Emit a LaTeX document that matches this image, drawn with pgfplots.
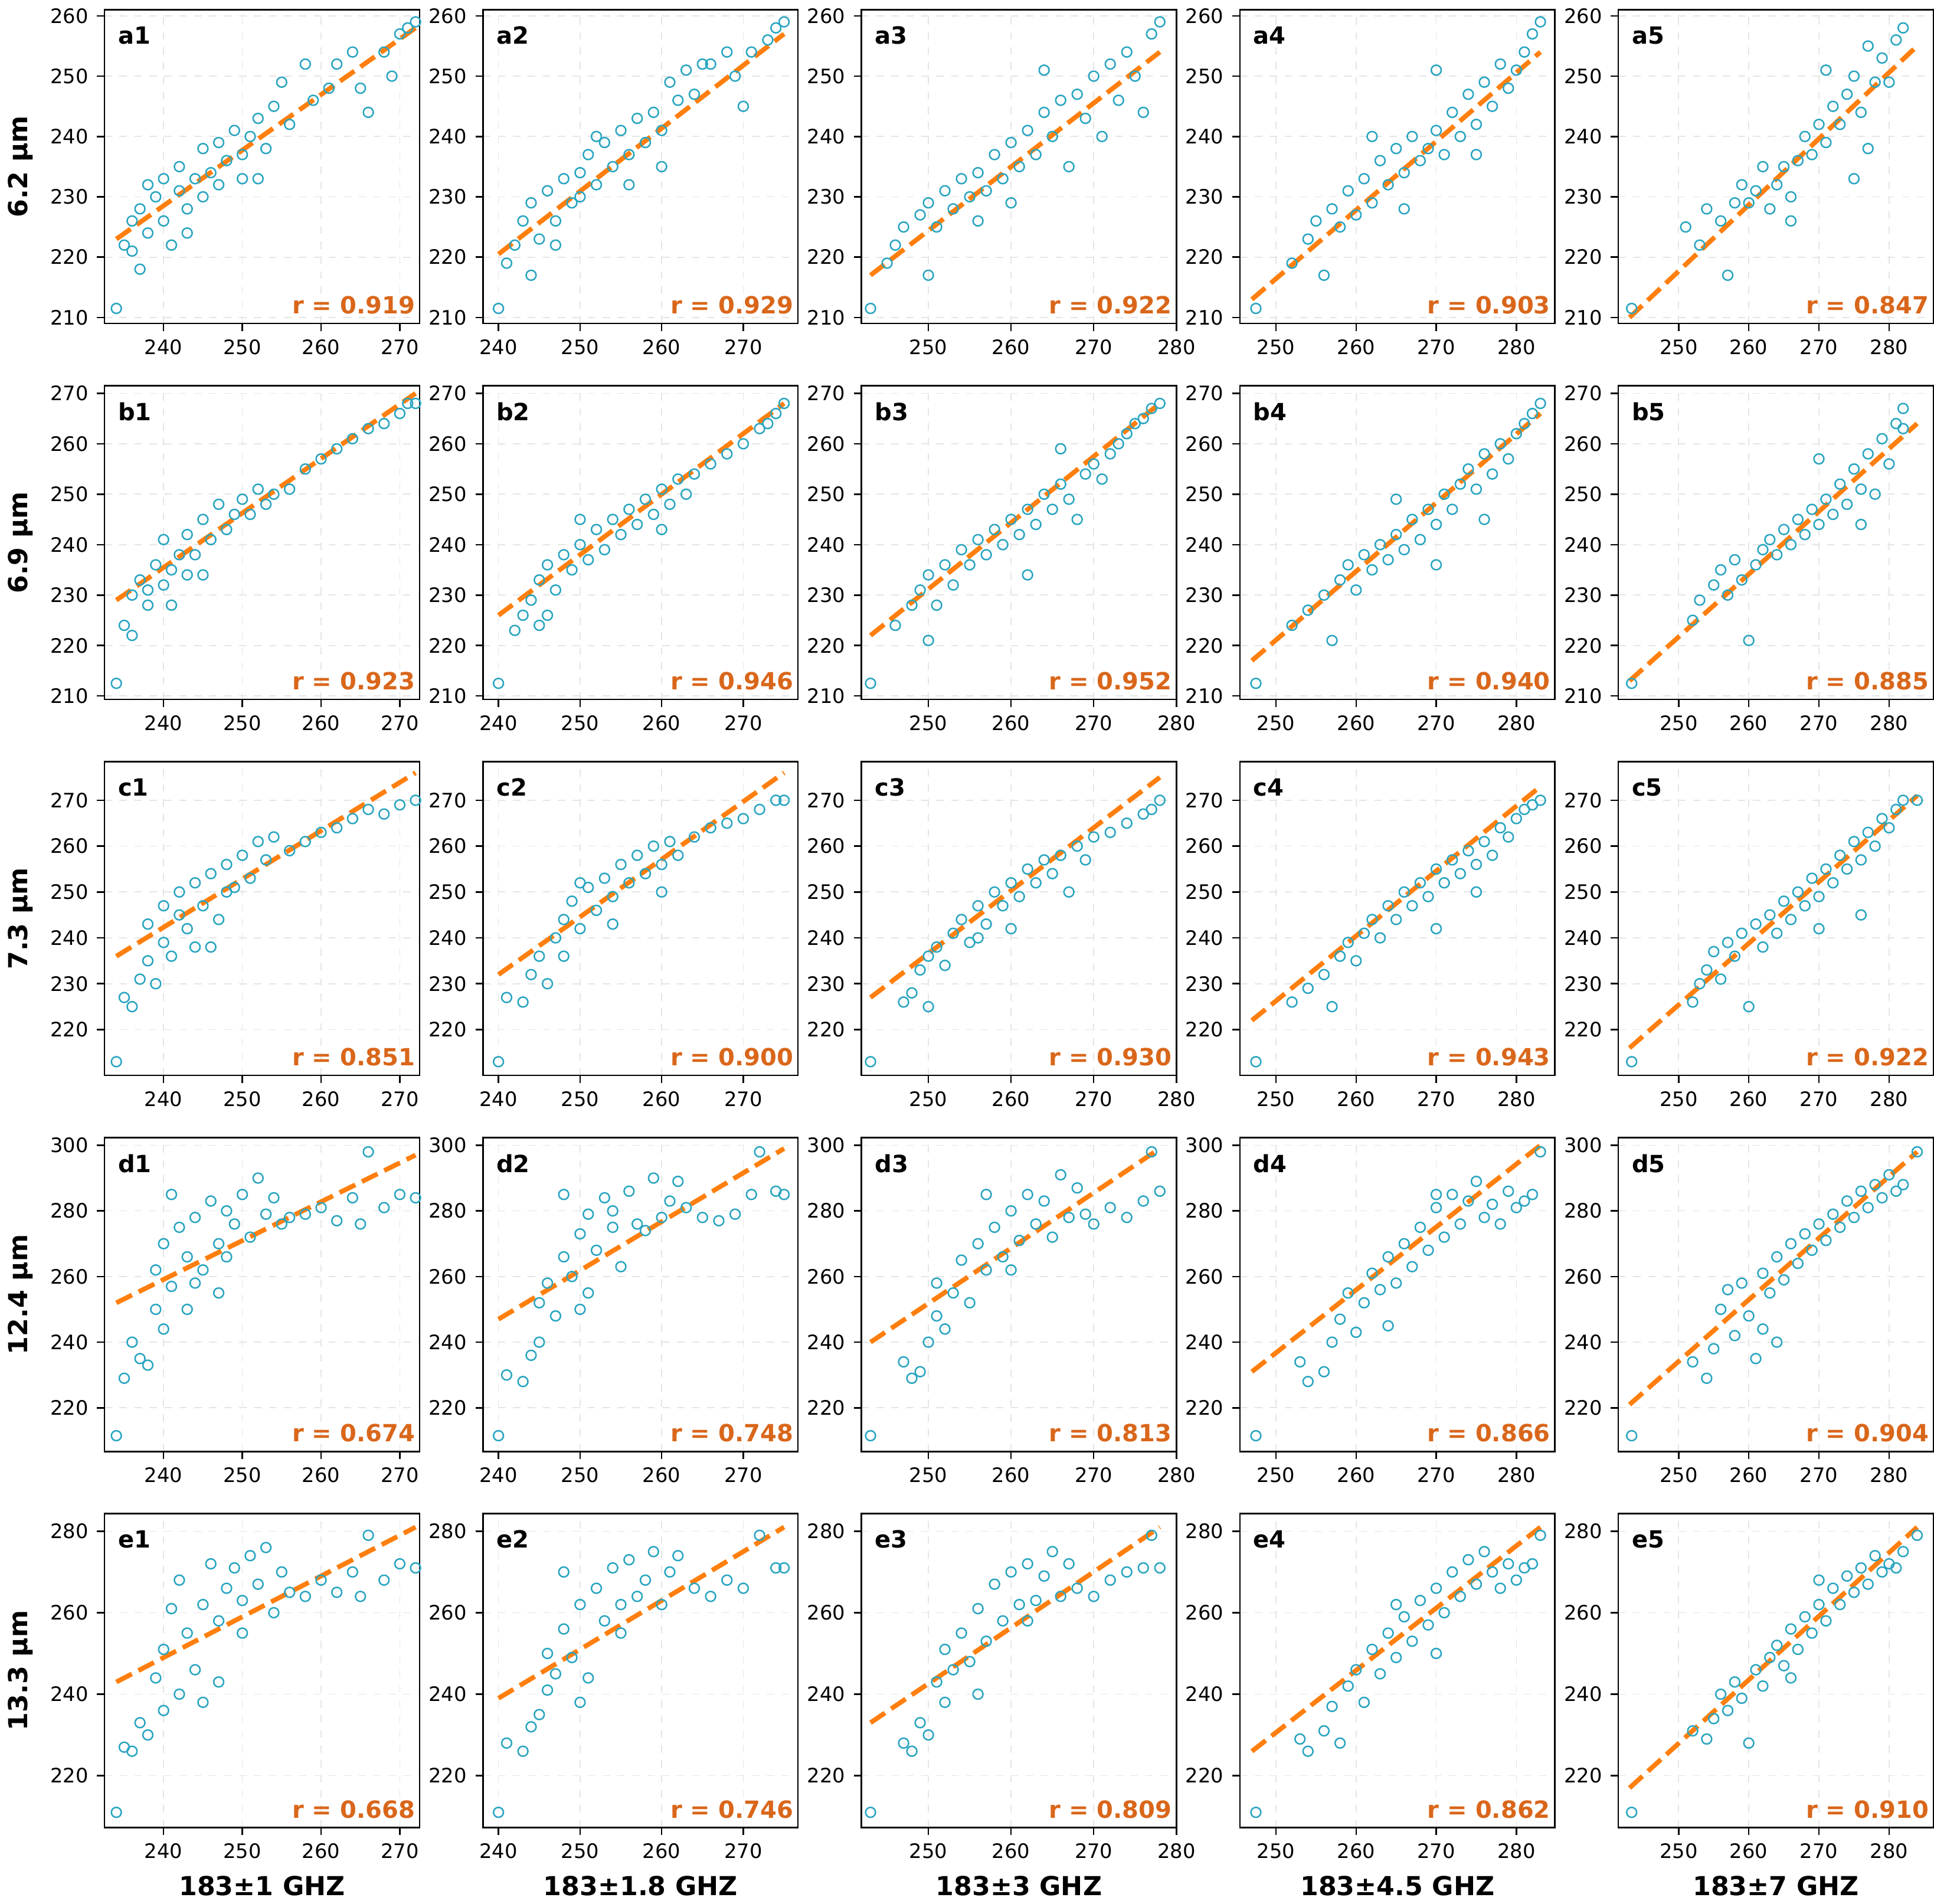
\documentclass[border=0pt]{standalone}
\usepackage{fontspec}
\setmainfont{DejaVu Sans}
\usepackage{pgfplots}
\pgfplotsset{compat=1.18}
\usepgfplotslibrary{groupplots}
\definecolor{pt}{HTML}{2AA5C0}
\definecolor{ln}{HTML}{FF7F0E}
\definecolor{rt}{HTML}{D9661A}
\pgfplotsset{
 every axis/.append style={scale only axis, width=126.5pt, height=126pt,
  tick align=outside, xtick pos=bottom, ytick pos=left,
  tick style={black,line width=0.6pt}, major tick length=3pt,
  grid=major, grid style={dashed,gray!20,line width=0.4pt},
  axis line style={line width=0.6pt},
  ticklabel style={font=\fontsize{8}{9}\selectfont},
  /pgf/number format/assume math mode=true,
  label style={font=\bfseries\fontsize{10.5}{12}\selectfont}},
 c1/.style={xmin=232.5,xmax=272.5,xtick={240,250,260,270}},
 c2/.style={xmin=238.1,xmax=276.7,xtick={240,250,260,270}},
 c3/.style={xmin=241.9,xmax=280,xtick={250,260,270,280}},
 c4/.style={xmin=245.5,xmax=284.8,xtick={250,260,270,280}},
 c5/.style={xmin=241.4,xmax=286.3,xtick={250,260,270,280}},
 ra/.style={ymin=209,ymax=261,ytick={210,220,...,260}},
 rb/.style={ymin=209.3,ymax=271.5,ytick={210,220,...,270}},
 rc/.style={ymin=210,ymax=278.4,ytick={220,230,...,270}},
 rd/.style={ymin=206.7,ymax=302.3,ytick={220,240,...,300}},
 re/.style={ymin=207.3,ymax=284.3,ytick={220,240,...,280}},
 sc/.style={only marks, mark=o, mark size=2pt, color=pt, mark options={line width=0.6pt}},
 fit/.style={ln, dashed, line width=1.9pt, dash pattern=on 7pt off 3pt},
}
\newcommand{\lab}[2]{\node[anchor=north west,font=\bfseries\fontsize{9.5}{11}\selectfont] at (rel axis cs:0.015,0.975) {#1};
 \node[anchor=south east,text=rt,font=\bfseries\fontsize{9.5}{11}\selectfont,inner sep=1pt] at (rel axis cs:0.995,0.02) {r = #2};}
\begin{document}
\begin{tikzpicture}
\begin{groupplot}[group style={group size=5 by 5, horizontal sep=25.5pt, vertical sep=25pt}]
% row a
\nextgroupplot[c1,ra,ylabel={6.2 µm}]
\addplot[sc] coordinates {(234,211.5)(235,222)(236,226)(237,218)(237,228)(238,224)(239,230)(240,233)(240,226)(241,222)(242,231)(242,235)(243,228)(244,233)(245,238)(245,230)(246,234)(247,239)(248,236)(249,241)(250,237)(250,233)(251,240)(252,243)(253,238)(254,245)(255,249)(256,242)(258,252)(259,246)(261,248)(262,252)(264,254)(265,248)(266,244)(268,254)(269,250)(270,257)(271,258)(272,259)(238,232)(243,224)(247,232)(252,233)(236,221)};
\addplot[fit] coordinates {(234,223)(272,258)}; \lab{a1}{0.919}
\nextgroupplot[c2,ra]
\addplot[sc] coordinates {(240,211.5)(241,219)(242,222)(243,226)(244,217)(244,229)(245,223)(246,231)(247,226)(248,233)(249,229)(250,234)(250,230)(251,237)(252,232)(253,239)(254,235)(255,241)(256,237)(257,243)(258,239)(259,244)(260,241)(261,249)(262,246)(263,251)(264,247)(265,252)(266,252)(268,254)(269,250)(270,245)(271,254)(273,256)(274,258)(275,259)(247,222)(252,240)(256,232)(260,235)};
\addplot[fit] coordinates {(240,220.5)(275,257)}; \lab{a2}{0.929}
\nextgroupplot[c3,ra]
\addplot[sc] coordinates {(243,211.5)(245,219)(246,222)(247,225)(249,227)(250,217)(250,229)(251,225)(252,231)(253,228)(254,233)(255,230)(256,234)(257,231)(258,237)(259,233)(260,239)(261,235)(262,241)(263,237)(264,244)(265,240)(266,246)(267,235)(268,247)(269,243)(270,250)(271,240)(272,252)(273,246)(274,254)(275,250)(276,244)(277,257)(278,259)(264,251)(256,226)(260,229)};
\addplot[fit] coordinates {(243,217)(278,254)}; \lab{a3}{0.922}
\nextgroupplot[c4,ra]
\addplot[sc] coordinates {(247.5,211.5)(252,219)(254,223)(255,226)(256,217)(257,228)(258,225)(259,231)(260,227)(261,233)(262,229)(263,236)(264,232)(265,238)(266,234)(267,240)(268,236)(269,238)(270,241)(271,237)(272,244)(273,240)(274,247)(275,242)(276,249)(277,245)(278,252)(279,248)(280,251)(281,254)(282,257)(283,259)(270,251)(275,237)(262,240)(266,228)};
\addplot[fit] coordinates {(247,213)(283,254)}; \lab{a4}{0.903}
\nextgroupplot[c5,ra]
\addplot[sc] coordinates {(243.3,211.5)(251,225)(253,222)(254,228)(256,226)(257,217)(258,229)(259,232)(260,229)(261,231)(262,235)(263,228)(264,232)(265,235)(266,230)(267,236)(268,240)(269,237)(270,242)(271,239)(272,245)(273,242)(274,247)(275,250)(276,244)(277,238)(278,249)(279,253)(280,249)(281,256)(282,258)(271,251)(275,233)(266,226)(277,255)};
\addplot[fit] coordinates {(243,210)(284,255)}; \lab{a5}{0.847}
% row b
\nextgroupplot[c1,rb,ylabel={6.9 µm}]
\addplot[sc] coordinates {(234,212.5)(235,224)(236,222)(236,230)(237,233)(238,228)(239,236)(240,232)(240,241)(241,235)(242,238)(243,242)(243,234)(244,238)(245,245)(246,241)(247,248)(248,243)(249,246)(250,249)(251,246)(252,251)(253,248)(254,250)(256,251)(258,255)(260,257)(262,259)(264,261)(266,263)(268,264)(270,266)(271,268)(272,268)(238,231)(241,228)(245,234)};
\addplot[fit] coordinates {(234,229)(272,270)}; \lab{b1}{0.923}
\nextgroupplot[c2,rb]
\addplot[sc] coordinates {(240,212.5)(242,223)(243,226)(244,229)(245,224)(245,233)(246,236)(247,231)(248,238)(249,235)(250,240)(251,237)(252,243)(253,239)(254,245)(255,242)(256,247)(257,244)(258,249)(259,246)(260,251)(261,248)(262,253)(263,250)(264,254)(266,256)(268,258)(270,260)(272,263)(273,264)(274,266)(275,268)(250,245)(246,226)(260,243)};
\addplot[fit] coordinates {(240,226)(275,268)}; \lab{b2}{0.946}
\nextgroupplot[c3,rb]
\addplot[sc] coordinates {(243,212.5)(246,224)(248,228)(249,231)(250,221)(250,234)(251,228)(252,236)(253,232)(254,239)(255,236)(256,241)(257,238)(258,243)(259,240)(260,245)(261,242)(262,247)(263,244)(264,250)(265,247)(266,252)(267,249)(268,245)(269,254)(270,256)(271,253)(272,258)(273,260)(274,262)(275,264)(276,265)(277,267)(278,268)(266,259)(262,234)};
\addplot[fit] coordinates {(243,222)(278,268)}; \lab{b3}{0.952}
\nextgroupplot[c4,rb]
\addplot[sc] coordinates {(247.5,212.5)(252,224)(254,227)(256,230)(257,221)(258,233)(259,236)(260,231)(261,238)(262,235)(263,240)(264,237)(265,242)(266,239)(267,245)(268,241)(269,247)(270,244)(271,250)(272,247)(273,252)(274,255)(275,251)(276,258)(277,254)(278,260)(279,257)(280,262)(281,264)(282,266)(283,268)(276,245)(270,236)(265,249)};
\addplot[fit] coordinates {(247,217)(283,266)}; \lab{b4}{0.940}
\nextgroupplot[c5,rb]
\addplot[sc] coordinates {(243.3,212.5)(252,225)(253,229)(255,232)(256,235)(257,230)(258,237)(259,233)(260,221)(261,236)(262,239)(263,241)(264,238)(265,243)(266,240)(267,245)(268,242)(269,247)(270,244)(271,249)(272,246)(273,252)(274,248)(275,255)(276,251)(277,258)(278,250)(279,261)(280,256)(281,264)(282,267)(282,263)(276,244)(270,257)};
\addplot[fit] coordinates {(243,213)(284,264)}; \lab{b5}{0.885}
% row c
\nextgroupplot[c1,rc,ylabel={7.3 µm}]
\addplot[sc] coordinates {(234,213)(235,227)(236,225)(237,231)(238,235)(238,243)(239,230)(240,239)(240,247)(241,236)(242,250)(243,242)(244,238)(244,252)(245,247)(246,254)(247,244)(248,256)(249,251)(250,258)(251,253)(252,261)(253,257)(254,262)(256,259)(258,261)(260,263)(262,264)(264,266)(266,268)(268,267)(270,269)(272,270)(242,245)(246,238)(248,250)};
\addplot[fit] coordinates {(234,236)(272,276)}; \lab{c1}{0.851}
\nextgroupplot[c2,rc]
\addplot[sc] coordinates {(240,213)(241,227)(243,226)(244,232)(245,236)(246,230)(247,240)(248,244)(248,236)(249,248)(250,242)(251,251)(252,246)(253,253)(254,249)(255,256)(256,252)(257,258)(258,254)(259,260)(260,256)(261,261)(262,258)(264,262)(266,264)(268,265)(270,266)(272,268)(274,270)(275,270)(250,252)(254,243)(260,250)};
\addplot[fit] coordinates {(240,232)(275,276)}; \lab{c2}{0.900}
\nextgroupplot[c3,rc]
\addplot[sc] coordinates {(243,213)(247,226)(248,228)(249,233)(250,225)(250,236)(251,238)(252,234)(253,241)(254,244)(255,239)(256,247)(257,243)(258,250)(259,247)(260,252)(261,249)(262,255)(263,252)(264,257)(265,254)(266,258)(267,250)(268,260)(269,257)(270,262)(272,263)(274,265)(276,267)(277,268)(278,270)(260,242)(256,240)};
\addplot[fit] coordinates {(243,227)(278,275)}; \lab{c3}{0.930}
\nextgroupplot[c4,rc]
\addplot[sc] coordinates {(247.5,213)(252,226)(254,229)(256,232)(257,225)(258,236)(259,239)(260,235)(261,241)(262,244)(263,240)(264,247)(265,244)(266,250)(267,247)(268,252)(269,249)(270,255)(271,252)(272,257)(273,254)(274,259)(275,256)(276,261)(277,258)(278,264)(279,262)(280,266)(281,268)(282,269)(283,270)(275,250)(270,242)};
\addplot[fit] coordinates {(247,222)(283,273)}; \lab{c4}{0.943}
\nextgroupplot[c5,rc]
\addplot[sc] coordinates {(243.3,213)(252,226)(253,230)(254,233)(255,237)(256,231)(257,239)(258,236)(259,241)(260,225)(261,243)(262,238)(263,245)(264,241)(265,248)(266,244)(267,250)(268,247)(269,253)(270,249)(271,255)(272,252)(273,258)(274,255)(275,261)(276,257)(277,263)(278,260)(279,266)(280,264)(281,268)(282,270)(284,270)(276,245)(270,242)};
\addplot[fit] coordinates {(243,216)(284,271)}; \lab{c5}{0.922}
% row d
\nextgroupplot[c1,rd,ylabel={12.4 µm}]
\addplot[sc] coordinates {(234,211.5)(235,229)(236,240)(237,235)(238,233)(239,250)(239,262)(240,244)(240,270)(241,257)(241,285)(242,275)(243,266)(243,250)(244,278)(245,262)(246,283)(247,270)(247,255)(248,280)(249,276)(250,285)(251,272)(252,290)(253,279)(254,284)(255,276)(256,278)(258,279)(260,281)(262,277)(264,284)(265,276)(266,298)(268,281)(270,285)(272,284)(244,258)(248,266)};
\addplot[fit] coordinates {(234,252)(272,297)}; \lab{d1}{0.674}
\nextgroupplot[c2,rd]
\addplot[sc] coordinates {(240,211.5)(241,230)(243,228)(244,236)(245,240)(245,252)(246,258)(247,248)(248,266)(248,285)(249,260)(250,273)(251,255)(251,279)(252,268)(253,284)(254,275)(255,263)(256,286)(257,276)(258,274)(259,290)(260,278)(261,283)(262,289)(263,281)(265,278)(267,277)(269,279)(271,285)(272,298)(274,286)(275,285)(250,250)(254,280)};
\addplot[fit] coordinates {(240,247)(275,299)}; \lab{d2}{0.748}
\nextgroupplot[c3,rd]
\addplot[sc] coordinates {(243,211.5)(247,234)(248,229)(249,231)(250,240)(251,248)(251,258)(252,244)(253,255)(254,265)(255,252)(256,270)(257,262)(258,275)(259,266)(260,280)(261,271)(262,285)(263,276)(264,283)(265,272)(266,291)(267,278)(268,287)(269,279)(270,276)(272,281)(274,278)(276,283)(277,298)(278,286)(257,285)(260,262)};
\addplot[fit] coordinates {(243,240)(278,299)}; \lab{d3}{0.813}
\nextgroupplot[c4,rd]
\addplot[sc] coordinates {(247.5,211.5)(253,234)(254,228)(256,231)(257,240)(258,247)(259,255)(260,243)(261,252)(262,261)(263,256)(264,266)(265,258)(266,270)(267,263)(268,275)(269,268)(270,281)(271,272)(272,285)(273,276)(274,283)(275,289)(276,278)(277,282)(278,276)(279,286)(280,281)(281,283)(282,285)(283,298)(264,245)(270,285)};
\addplot[fit] coordinates {(247,231)(283,300)}; \lab{d4}{0.866}
\nextgroupplot[c5,rd]
\addplot[sc] coordinates {(243.3,211.5)(252,234)(254,229)(255,238)(256,250)(257,256)(258,242)(259,258)(260,248)(261,235)(262,261)(263,255)(264,266)(265,259)(266,270)(267,264)(268,273)(269,268)(270,276)(271,271)(272,279)(273,275)(274,283)(275,278)(276,286)(277,281)(278,288)(279,284)(280,291)(281,286)(282,288)(284,298)(264,240)(262,244)};
\addplot[fit] coordinates {(243,221)(284,298)}; \lab{d5}{0.904}
% row e
\nextgroupplot[c1,re,ylabel={13.3 µm},xlabel={183±1 GHZ}]
\addplot[sc] coordinates {(234,211)(235,227)(236,226)(237,233)(238,230)(239,244)(240,251)(240,236)(241,261)(242,240)(242,268)(243,255)(244,246)(245,262)(246,272)(247,258)(247,243)(248,266)(249,271)(250,263)(251,274)(252,267)(253,276)(254,260)(255,270)(256,265)(258,264)(260,268)(262,265)(264,270)(265,264)(266,279)(268,268)(270,272)(272,271)(245,238)(250,255)};
\addplot[fit] coordinates {(234,243)(272,281)}; \lab{e1}{0.668}
\nextgroupplot[c2,re,xlabel={183±1.8 GHZ}]
\addplot[sc] coordinates {(240,211)(241,228)(243,226)(244,232)(245,235)(246,241)(246,250)(247,245)(248,256)(248,270)(249,249)(250,262)(251,244)(252,266)(253,258)(254,271)(255,262)(256,273)(257,264)(258,268)(259,275)(260,262)(261,270)(262,274)(264,266)(266,264)(268,268)(270,266)(272,279)(274,271)(275,271)(250,238)(255,255)};
\addplot[fit] coordinates {(240,239)(275,281)}; \lab{e2}{0.746}
\nextgroupplot[c3,re,xlabel={183±3 GHZ}]
\addplot[sc] coordinates {(243,211)(247,228)(248,226)(249,233)(250,230)(251,243)(252,251)(252,238)(253,246)(254,255)(255,248)(256,261)(257,253)(258,267)(259,258)(260,270)(261,262)(262,272)(263,263)(264,269)(265,275)(266,264)(267,272)(268,266)(270,264)(272,268)(274,270)(276,271)(277,279)(278,271)(256,240)(262,258)};
\addplot[fit] coordinates {(243,233)(278,281)}; \lab{e3}{0.809}
\nextgroupplot[c4,re,xlabel={183±4.5 GHZ}]
\addplot[sc] coordinates {(247.5,211)(253,229)(254,226)(256,231)(257,237)(258,228)(259,242)(260,246)(261,238)(262,251)(263,245)(264,255)(265,249)(266,259)(267,253)(268,263)(269,257)(270,266)(271,260)(272,270)(273,264)(274,273)(275,267)(276,275)(277,270)(278,266)(279,272)(280,268)(281,271)(282,272)(283,279)(265,262)(270,250)};
\addplot[fit] coordinates {(247,226)(283,281)}; \lab{e4}{0.862}
\nextgroupplot[c5,re,xlabel={183±7 GHZ}]
\addplot[sc] coordinates {(243.3,211)(252,231)(254,229)(255,234)(256,240)(257,236)(258,243)(259,239)(260,228)(261,246)(262,242)(263,249)(264,252)(265,247)(266,256)(267,251)(268,259)(269,255)(270,262)(271,258)(272,266)(273,262)(274,269)(275,265)(276,271)(277,267)(278,274)(279,270)(280,272)(281,271)(282,275)(284,279)(266,244)(270,268)};
\addplot[fit] coordinates {(243,217)(284,281)}; \lab{e5}{0.910}
\end{groupplot}
\end{tikzpicture}
\end{document}
